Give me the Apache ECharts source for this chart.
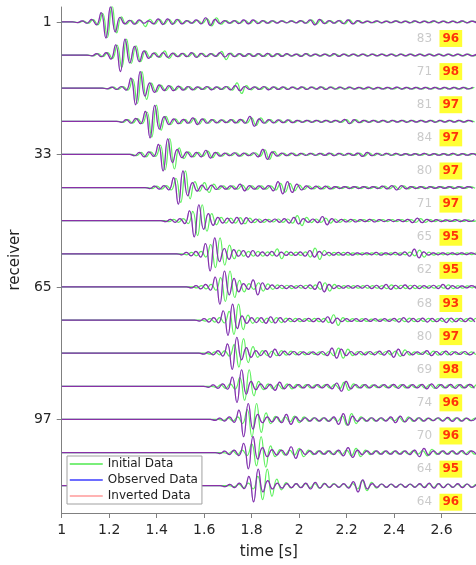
<!DOCTYPE html>
<html>
<head>
<meta charset="utf-8">
<script src="https://cdn.jsdelivr.net/npm/echarts@6/dist/echarts.min.js"></script>
<style>
  html, body { margin: 0; padding: 0; background: #fff; }
  #chart { width: 476px; height: 565px; }
</style>
</head>
<body>
<div id="chart"></div>
<script>
// receivers shown (every 8th) and tick labels
const receivers = [1, 9, 17, 25, 33, 41, 49, 57, 65, 73, 81, 89, 97, 105, 113];
const yTicks = [1, 33, 65, 97];
const xTicks = [1, 1.2, 1.4, 1.6, 1.8, 2, 2.2, 2.4, 2.6];

// scores printed at the right of each trace
const initialScore = [83, 71, 81, 84, 80, 71, 65, 62, 68, 80, 69, 74, 70, 64, 64];
const invertedScore = [96, 98, 97, 97, 97, 97, 95, 95, 93, 97, 98, 96, 96, 95, 96];

// time of first sample of each trace (s), samples every 0.02 s
const obsStart = [1.046, 1.107, 1.171, 1.232, 1.287, 1.351, 1.418, 1.485, 1.526, 1.560, 1.578, 1.598, 1.626, 1.646, 1.668];
const iniStart = [1.052, 1.113, 1.178, 1.239, 1.295, 1.361, 1.432, 1.507, 1.549, 1.585, 1.606, 1.630, 1.661, 1.680, 1.706];
const DT = 0.02;

// observed traces (amplitude, read peak to peak)
const obs1 = [0,-0.4,0.6,-0.8,1.5,-1.8,5.6,-9.7,9.2,-6, 2.8,-1.2,1,-1.4,1.2,-0.8,0.6,-1.2,1.8,-1.6, 1.8,-1.5,1.6,-1.2,0.8,-0.8,1.2,-1.2,2.5,-2.2, 1.5,-1,0.8,-0.8,0.8,-1,1.2,-1.2,1.2,-1, 0.8,-0.8,0.7,-0.7,0.6,-0.6,0.6,-0.6,0.8,-0.8, 1.2,-1.8,1.5,-1,0.8,-0.8,0.8,-1,1.2,-1.2, 0.8,-0.6,0.5,-0.5,0.6,-0.6,0.5,-0.5,0.6,-0.5, 0.5,-0.6,0.6,-0.5,0.5,-0.5,0.6,-0.6,0.5,-0.5, 0.5,-0.5,0.6,-0.6,0.5,-0.5];
const obs9 = [0,-0.5,0.8,-1,1.5,-2.5,6.2,-10,9.6,-4.8, 5.2,-4,2.5,-2,1.2,-1.2,1.5,-1.5,1.2,-1, 1,-1,1.5,-1.5,1,-1,0.8,-0.8,1.5,-1.2, 1,-1,0.8,-0.8,0.8,-0.8,0.8,-0.8,1,-1, 0.8,-0.8,0.8,-0.6,0.6,-0.8,0.8,-0.6,0.6,-0.6, 0.6,-0.6,0.8,-0.8,0.6,-0.6,0.6,-0.6,0.6,-0.6, 0.5,-0.5,0.5,-0.5,0.6,-0.6,0.5,-0.5,0.5,-0.5, 0.5,-0.5,0.5,-0.5,0.5,-0.5,0.5,-0.5,0.5,-0.5, 0.5,-0.5,0.5];
const obs17 = [0,-0.4,0.6,-0.8,1,-1.2,6,-10,10,-4.8, 3.2,-2.5,2,-1.5,1.5,-1.5,1.2,-1.2,1,-1, 0.8,-0.8,1,-1,0.8,-0.8,1,-1,1.5,-1.5, 1,-0.8,0.8,-0.8,1,-1,0.8,-0.8,0.8,-0.8, 0.6,-0.6,0.8,-0.8,0.6,-0.6,0.8,-0.8,0.6,-0.6, 0.6,-0.6,0.6,-0.6,0.5,-0.5,0.6,-0.6,0.5,-0.5, 0.5,-0.5,0.6,-0.6,0.5,-0.5,0.5,-0.5,0.5,-0.5, 0.5,-0.5,0.5,-0.5,0.5,-0.5,0.5,-0.5,0.5];
const obs25 = [0,-0.6,1,-1.2,1.8,-1.5,6,-10,9.6,-4.8, 2.8,-2,1.5,-1.5,1.2,-1.2,2,-2,1.5,-1.2, 1,-1,0.8,-0.8,1,-1,1.2,-1.2,3,-3, 1.5,-1.2,1,-1,0.8,-0.8,0.8,-0.8,0.6,-0.6, 0.6,-0.6,0.6,-0.6,0.6,-0.6,0.6,-0.6,1.2,-1.5, 1,-0.8,0.6,-0.6,0.6,-0.6,0.6,-0.6,0.5,-0.5, 0.6,-0.6,0.5,-0.5,0.5,-0.5,0.6,-0.6,0.5,-0.5, 0.5,-0.5,0.5,-0.5,0.5,-0.5];
const obs33 = [0,-0.8,1.2,-1.5,1.5,-1.2,6,-10,9.4,-5, 3,-2,1.5,-1.5,1.2,-1.5,2.5,-2.2,1.2,-1, 0.8,-0.8,1,-1,0.8,-0.8,1,-1.5,3,-3, 1.5,-1,0.8,-0.8,0.8,-0.8,0.6,-0.6,0.6,-0.6, 0.6,-0.6,0.8,-0.8,0.6,-0.6,0.6,-0.6,0.8,-1.2, 1.2,-0.8,0.6,-0.6,0.6,-0.6,0.6,-0.6,0.5,-0.5, 0.5,-0.5,0.6,-0.6,0.5,-0.5,0.5,-0.5,0.6,-0.6, 0.5,-0.5,0.5,-0.5];
const obs41 = [0,-0.6,0.8,-1,1.2,-1.5,6,-10,10,-5, 3,-2.2,1.5,-1.5,1.5,-1.2,1,-1,1,-1, 2,-2,1.2,-1,1,-1,1.2,-2,3.6,-3.8, 3.6,-3,2,-1.5,1,-0.8,0.8,-0.8,0.8,-0.8, 0.6,-0.6,0.6,-0.6,0.6,-0.6,0.6,-0.6,0.6,-0.6, 0.8,-0.8,1.2,-1.5,1.2,-0.8,0.6,-0.6,0.6,-0.6, 0.5,-0.5,0.5,-0.5,0.6,-0.6,0.5,-0.5,0.5,-0.5];
const obs49 = [0,-0.6,0.8,-1,1.2,-1.8,6,-9.8,9.6,-5.2, 4.2,-2.8,2,-1.5,1.5,-1.5,2,-2,1.8,-1.2, 1,-1,0.8,-0.8,1,-1,1.2,-1.5,2,-2, 1.2,-1,1,-1.2,2.5,-2.5,1.2,-1,0.8,-0.8, 0.8,-0.8,0.6,-0.6,0.8,-0.8,0.6,-0.6,0.6,-0.6, 0.6,-0.6,0.8,-1.2,1.5,-1.2,0.8,-0.6,0.6,-0.6, 0.5,-0.5,0.6,-0.6,0.5,-0.5,0.5];
const obs57 = [0,-0.6,0.8,-1.2,1.5,-2,6.2,-10.4,9.6,-4.8, 3.2,-3.4,2.5,-1.5,2,-2,2,-1.5,1.2,-1.2, 1.5,-1.5,1,-1,1,-1,1.2,-1.5,2,-2, 1.5,-1,0.8,-0.8,0.8,-0.8,0.8,-0.8,0.6,-0.6, 0.6,-0.6,0.8,-0.8,0.6,-0.6,0.8,-0.8,1.2,-1.5, 2.8,-2.5,1.2,-0.8,0.6,-0.6,0.6,-0.6,0.5,-0.5, 0.5,-0.5,0.5,-0.5];
const obs65 = [0,-0.6,0.8,-1.2,1.5,-2,6,-10.4,9.6,-4.8, 5.2,-3,2,-1.5,4.2,-4.8,2.5,-1.5,1.2,-1, 1,-1,0.8,-0.8,1,-1,1.2,-1.5,3,-3, 1.5,-1,0.8,-0.8,0.8,-0.8,0.8,-0.8,1,-1, 1,-1.2,1.5,-1.5,1,-1,1.2,-1.2,1,-1, 0.8,-0.8,1,-1,1.5,-1.2,0.8,-0.8,0.6,-0.6, 0.8,-0.8];
const obs73 = [0,-0.6,0.8,-1.2,1.5,-1.8,5.6,-9.2,9.6,-5.2, 2.5,-2,1.5,-1.5,1.5,-2,2,-1.8,1.5,-1.2, 1,-1,0.8,-0.8,1,-1,1,-1.2,2,-2, 1.2,-1,0.8,-0.8,0.8,-0.8,0.8,-0.8,0.8,-0.8, 0.8,-0.8,1,-1.2,1.5,-1.2,1,-1,1.2,-1.2, 1,-1,1.2,-1.5,1.2,-1,1,-1,1.2,-1.2];
const obs81 = [0,-0.6,0.8,-1,1.5,-1.8,5.6,-9.8,9.6,-4, 3.4,-2.5,1.5,-1.5,1.5,-2.5,2.5,-1.5,1.2,-1, 1,-1,0.8,-0.8,0.8,-1,1,-1.5,3,-3, 2.5,-1.5,1,-1,1,-1,1,-1,1.2,-1.2, 1.5,-2.5,2.5,-1.5,1,-1,0.8,-0.8,1.5,-1.5, 1,-1,1.2,-1,0.8,-0.8,1,-1,0.8];
const obs89 = [0,-0.6,0.8,-1.2,1.5,-1.8,5.6,-9.8,10,-4.8, 3,-2,1.5,-1.5,1.2,-2.5,2.5,-1.5,1.2,-1, 1,-1,1,-1,1,-1,1.2,-1.5,2,-3, 3,-1.5,1,-1,1,-1,0.8,-0.8,1,-1, 1.2,-1.2,1,-1,1,-1,1.2,-1.5,1.5,-1.2, 1,-1,1.2,-1.2,1,-1,1.2,-1.2];
const obs97 = [0,-0.6,0.8,-1,1.5,-1.8,5.6,-10.4,9.6,-5.8, 3,-2,1.5,-1.5,1.5,-2,3,-3,1.5,-1.2, 1,-1,1,-1,1,-1.2,1.5,-3,3.5,-3.5, 2,-1.2,1,-1,1,-1,1,-1,1.5,-2, 2,-1.5,1,-1,1,-1,0.8,-0.8,1,-1, 1.2,-1.2,1,-1,0.8,-0.8,1];
const obs105 = [0,-0.6,0.8,-1.2,1.5,-1.8,5.6,-9.8,9.6,-4, 3,-2.5,1.8,-1.5,1.5,-1.5,3.5,-3.5,2,-1.2, 1,-1,1,-1,1,-1.2,1.5,-2,3,-3, 1.5,-1.2,1,-1,1,-1,1,-1,1,-1, 1,-1.2,1.5,-2.5,2.5,-1.5,1,-1,1,-1, 1,-1,1.2,-1.2,1,-1];
const obs113 = [0,-0.6,0.8,-1.2,1.5,-1.8,5.6,-9.8,10,-3.8, 3,-2,1.5,-1.5,1.2,-1.2,1.2,-1.2,1.5,-2, 2,-1.5,1.2,-1,1,-1,1.2,-1.5,2.5,-3.8, 3.5,-2,1.2,-1,1,-1,1,-1,1,-1, 1,-1,1.2,-1.2,1.5,-1.5,1.2,-1.2,1,-1, 1.2,-1.2,1,-1,1];

// initial-model traces
const ini1 = [0,-0.4,0.5,-0.8,1.4,-1.8,5.2,-9.4,9.8,-6.6, 3,-1.4,1,-1.2,1,-2.8,1.6,-1.4,1.5,-1.4, 1.5,-1.2,1.4,-1,0.8,-0.8,1,-1,1.8,-2.4, 2.5,-1.4,0.8,-0.8,0.8,-0.8,1,-1,1,-0.8, 0.8,-0.8,0.6,-0.6,0.6,-0.6,0.6,-0.6,0.6,-0.8, 1.2,-1.4,1.2,-1,0.8,-0.8,1,-1.2,1.2,-1, 0.8,-0.6,0.5,-0.5,0.5,-0.5,0.5,-0.5,0.6,-0.5, 0.5,-0.5,0.5,-0.5,0.5,-0.5,0.5,-0.5,0.5,-0.5, 0.5,-0.5,0.5,-0.5,0.5,-0.5];
const ini9 = [0,-0.5,0.8,-1,1.4,-2.2,6,-7.5,9.6,-5, 5.6,-4,2.5,-1.5,1.5,-1.5,2.5,-2,1.2,-1, 1,-1,1.2,-1.2,1,-1,0.8,-0.8,2.2,-2.8, 1.2,-1,0.8,-0.8,0.8,-0.8,0.8,-0.8,0.8,-0.8, 0.8,-0.6,0.6,-0.6,0.6,-0.6,0.8,-0.6,0.6,-0.6, 0.6,-0.6,0.6,-0.6,0.6,-0.6,0.6,-0.6,0.5,-0.5, 0.5,-0.5,0.5,-0.5,0.5,-0.5,0.5,-0.5,0.5,-0.5, 0.5,-0.5,0.5,-0.5,0.5,-0.5,0.5,-0.5,0.5,-0.5, 0.5,-0.5,0.5];
const ini17 = [0,-0.4,0.6,-0.8,1,-1.2,5.6,-9.2,10,-6.8, 3,-2.2,1.8,-1.5,1.2,-1.2,1,-1,1,-1, 0.8,-0.8,0.8,-0.8,0.8,-0.8,1,-1.2,3.2,-3.2, 1.5,-1,0.8,-0.8,0.8,-0.8,0.8,-0.8,0.6,-0.6, 0.6,-0.6,0.6,-0.6,0.6,-0.6,0.6,-0.6,0.6,-0.6, 0.5,-0.5,0.5,-0.5,0.5,-0.5,0.5,-0.5,0.5,-0.5, 0.5,-0.5,0.5,-0.5,0.5,-0.5,0.5,-0.5,0.5,-0.5, 0.5,-0.5,0.5,-0.5,0.5,-0.5,0.5,-0.5,0.5];
const ini25 = [0,-0.6,1,-1.2,1.6,-1.5,5.6,-9.6,9.8,-5.4, 3,-2,1.5,-1.5,1.2,-1.2,1.8,-1.8,1.5,-1.2, 1,-1,0.8,-0.8,1,-1,1,-1.2,2,-2.5, 2,-1.2,1,-1,0.8,-0.8,0.8,-0.8,0.6,-0.6, 0.6,-0.6,0.6,-0.6,0.6,-0.6,0.6,-0.6,1,-1.2, 1,-0.8,0.6,-0.6,0.6,-0.6,0.6,-0.6,0.5,-0.5, 0.5,-0.5,0.5,-0.5,0.5,-0.5,0.5,-0.5,0.5,-0.5, 0.5,-0.5,0.5,-0.5,0.5,-0.5];
const ini33 = [0,-0.8,1.2,-1.5,1.5,-1.2,5.6,-9.4,9.6,-8.8, 4,-2.5,1.5,-1.5,1.2,-1.2,2,-2,1.2,-1, 0.8,-0.8,1,-1,0.8,-0.8,1,-1.2,2.8,-3, 1.8,-1,0.8,-0.8,0.8,-0.8,0.6,-0.6,0.6,-0.6, 0.6,-0.6,0.6,-0.6,0.6,-0.6,0.6,-0.6,0.8,-1, 1,-0.8,0.6,-0.6,0.6,-0.6,0.5,-0.5,0.5,-0.5, 0.5,-0.5,0.5,-0.5,0.5,-0.5,0.5,-0.5,0.5,-0.5, 0.5,-0.5,0.5,-0.5];
const ini41 = [0,-0.6,0.8,-1,1.2,-1.5,5.6,-9,10,-6.8, 3.6,-2.2,3,-3,2,-1.2,1,-1,1,-1, 1.5,-1.5,1,-1,1,-1,1,-1.5,2.5,-2.8, 2.5,-2,1.5,-1.2,1,-0.8,0.8,-0.8,0.8,-0.8, 0.6,-0.6,0.6,-0.6,0.6,-0.6,0.6,-0.6,0.6,-0.6, 0.8,-0.8,1,-1.2,1,-0.8,0.6,-0.6,0.6,-0.6, 0.5,-0.5,0.5,-0.5,0.5,-0.5,0.5,-0.5,0.5,-0.5];
const ini49 = [0,-0.6,0.8,-1,1.2,-1.8,5.6,-9,9.6,-6.4, 4.2,-2.5,2,-1.5,1.5,-1.5,1.8,-1.8,1.5,-1.2, 1,-1,0.8,-0.8,1,-1,1,-1.5,3,-3, 2,-1.2,1,-1,1.5,-1.5,1,-1,0.8,-0.8, 0.6,-0.6,0.6,-0.6,0.6,-0.6,0.6,-0.6,0.6,-0.6, 0.6,-0.6,0.6,-1,1.2,-1,0.6,-0.6,0.5,-0.5, 0.5,-0.5,0.5,-0.5,0.5,-0.5,0.5];
const ini57 = [0,-0.6,0.8,-1.2,1.5,-2,5.6,-8.4,9.6,-6.8, 5.2,-3,2.2,-1.5,1.5,-1.5,1.5,-1.5,1.2,-1.2, 3,-3,1.5,-1,1,-1,1.2,-2,3.4,-3.4, 2,-1.2,0.8,-0.8,0.8,-0.8,0.6,-0.6,0.6,-0.6, 0.6,-0.6,0.6,-0.6,0.6,-0.6,0.6,-0.6,1,-1.2, 2.2,-2,1,-0.8,0.6,-0.6,0.5,-0.5,0.5,-0.5, 0.5,-0.5,0.5,-0.5];
const ini65 = [0,-0.6,0.8,-1.2,1.5,-2,5.6,-8.8,9.6,-6.4, 4,-3,2,-1.5,2.5,-2.5,1.8,-1.5,1.2,-1, 1,-1,0.8,-0.8,1,-1,1.2,-1.5,2.5,-2.5, 1.5,-1,0.8,-0.8,0.8,-0.8,0.8,-0.8,0.8,-0.8, 0.8,-1,1.2,-1.2,1,-1,1,-1,0.8,-0.8, 0.8,-0.8,0.8,-0.8,1.2,-1,0.8,-0.8,0.6,-0.6, 0.6,-0.6];
const ini73 = [0,-0.6,0.8,-1.2,1.5,-1.8,5.2,-8.6,9.6,-5.8, 3,-2,1.5,-1.5,1.2,-1.5,1.5,-1.5,1.2,-1, 1,-1,0.8,-0.8,1,-1,1,-1.5,3.2,-3.2, 1.5,-1,0.8,-0.8,0.8,-0.8,0.6,-0.6,0.6,-0.6, 0.6,-0.6,0.8,-1,1.2,-1,0.8,-0.8,1,-1, 0.8,-0.8,1,-1.2,1,-0.8,0.8,-0.8,1,-1];
const ini81 = [0,-0.6,0.8,-1,1.4,-1.8,5.2,-8.4,8.8,-5.8, 4,-2.5,1.5,-1.5,1.2,-1.5,1.5,-1.2,1.2,-1, 1,-1,0.8,-0.8,0.8,-1,1,-1.5,3,-3, 2.5,-1.5,1,-1,0.8,-0.8,0.8,-0.8,1,-1, 1.2,-2,2,-1.2,0.8,-0.8,0.8,-0.8,1.2,-1.2, 1,-1,1,-0.8,0.8,-0.8,0.8,-0.8,0.8];
const ini89 = [0,-0.6,0.8,-1.2,1.5,-1.8,5.2,-8.4,10,-5.8, 3,-2,1.5,-1.5,1.2,-1.5,1.5,-1.5,1.2,-1, 1,-1,0.8,-0.8,1,-1,1.2,-1.5,2.5,-2.5, 1.5,-1,1,-1,0.8,-0.8,0.8,-0.8,0.8,-0.8, 1,-1,0.8,-0.8,1,-1,1,-1.2,1.2,-1, 0.8,-0.8,1,-1,0.8,-0.8,1,-1];
const ini97 = [0,-0.6,0.8,-1,1.5,-2.5,6,-10.5,9.6,-7.8, 4,-2.5,1.8,-1.5,1.5,-1.5,2,-2,1.5,-1.2, 1,-1,1,-1,1,-1.2,2,-3.5,3.5,-2.5, 1.5,-1.2,1,-1,0.8,-0.8,0.8,-0.8,1.2,-1.5, 1.5,-1.2,1,-1,0.8,-0.8,0.8,-0.8,0.8,-0.8, 1,-1,0.8,-0.8,0.8,-0.8,0.8];
const ini105 = [0,-0.6,0.8,-1.2,1.5,-1.8,5.2,-8,9.6,-8.8, 4,-2.5,1.8,-1.5,1.5,-1.5,2.5,-2.5,1.5,-1.2, 1,-1,1,-1,1,-1.2,1.5,-2,2.5,-2.5, 1.5,-1.2,1,-1,0.8,-0.8,0.8,-0.8,0.8,-0.8, 1,-1,1.2,-2,2,-1.2,0.8,-0.8,0.8,-0.8, 0.8,-0.8,1,-1,0.8,-0.8];
const ini113 = [0,-0.6,0.8,-1.2,1.5,-2,5.6,-8.4,10,-6.4, 4,-2.5,1.8,-1.5,1.2,-1.2,1.2,-1.2,1.2,-1.5, 1.5,-1.2,1.2,-1,1,-1,1.2,-2,3,-3, 2,-1.5,1,-1,0.8,-0.8,0.8,-0.8,0.8,-0.8, 0.8,-0.8,1,-1,1.2,-1.2,1,-1,0.8,-0.8, 1,-1,0.8,-0.8,0.8];

const observed = [obs1, obs9, obs17, obs25, obs33, obs41, obs49, obs57, obs65, obs73, obs81, obs89, obs97, obs105, obs113];
const initial = [ini1, ini9, ini17, ini25, ini33, ini41, ini49, ini57, ini65, ini73, ini81, ini89, ini97, ini105, ini113];
// inverted traces sit on top of the observed ones at this scale
const inverted = observed;

const X_MIN = 1, X_MAX = 2.745;
const GAIN = 0.4;          // receivers per amplitude unit
const SCORE_T = 2.528, BOX_T = 2.639;
const FONT = 'DejaVu Sans';

function traceData(vals, start, rec) {
    const pts = [[X_MIN, rec]];
    vals.forEach((v, k) => pts.push([start + k * DT, rec - GAIN * v]));
    return pts;
}

const series = [];
const kinds = [
    { name: 'Initial Data', traces: initial, starts: iniStart, color: '#5ef05e', legendColor: '#4ee84e' },
    { name: 'Observed Data', traces: observed, starts: obsStart, color: '#4a4aff', legendColor: '#3c3cff' },
    { name: 'Inverted Data', traces: inverted, starts: obsStart, color: 'rgba(255,0,0,0.35)', legendColor: '#ff9a9a' }
];
kinds.forEach(kd => {
    kd.traces.forEach((vals, i) => {
        series.push({
            name: kd.name,
            type: 'line',
            data: traceData(vals, kd.starts[i], receivers[i]),
            symbol: 'none',
            smooth: 0.5,
            lineStyle: { width: 1.2, color: kd.color },
            itemStyle: { color: kd.color },
            silent: true
        });
    });
});

series.push({
    type: 'scatter',
    symbolSize: 0,
    data: receivers.map((r, i) => [SCORE_T, r + 4, initialScore[i]]),
    label: {
        show: true, position: 'inside', formatter: p => p.value[2],
        color: '#bdbdbd', fontSize: 12, fontFamily: FONT
    },
    silent: true
});
series.push({
    type: 'scatter',
    symbolSize: 0,
    data: receivers.map((r, i) => [BOX_T, r + 4, invertedScore[i]]),
    label: {
        show: true, position: 'inside', formatter: p => p.value[2],
        color: '#ff0000', fontSize: 12, fontWeight: 'bold', fontFamily: FONT,
        backgroundColor: '#ffff00', padding: [3, 3, 2, 3], lineHeight: 12
    },
    silent: true
});

const axisCol = '#808080';
const chart = echarts.init(document.getElementById('chart'), null, { renderer: 'canvas' });
chart.setOption({
    animation: false,
    backgroundColor: '#fff',
    grid: { left: 57, right: 0, top: 7, bottom: 49 },
    legend: {
        data: kinds.map(kd => ({
            name: kd.name,
            lineStyle: { color: kd.legendColor, width: 1.5 },
            itemStyle: { opacity: 0 }
        })),
        orient: 'vertical',
        left: 67, top: 456,
        backgroundColor: '#fff',
        borderColor: '#a0a0a0', borderWidth: 1,
        padding: [2, 4, 2, 2],
        itemWidth: 33, itemHeight: 12, itemGap: 4,
        textStyle: { fontSize: 12, color: '#222', fontFamily: FONT },
        selectedMode: false
    },
    xAxis: {
        type: 'value', min: X_MIN, max: X_MAX,
        name: 'time [s]', nameLocation: 'middle', nameGap: 32,
        nameTextStyle: { fontSize: 15, color: '#222', fontFamily: FONT },
        axisLine: { onZero: false, lineStyle: { color: axisCol } },
        axisTick: { customValues: xTicks, length: 5, lineStyle: { color: axisCol } },
        axisLabel: { customValues: xTicks, fontSize: 14, color: '#262626', fontFamily: FONT, margin: 10 },
        splitLine: { show: false }
    },
    yAxis: {
        type: 'value', min: -2.6, max: 119.6, inverse: true,
        name: 'receiver', nameLocation: 'middle', nameGap: 36,
        nameTextStyle: { fontSize: 15, color: '#222', fontFamily: FONT },
        axisLine: { show: true, onZero: false, lineStyle: { color: axisCol } },
        axisTick: { show: true, customValues: yTicks, length: 5, lineStyle: { color: axisCol } },
        axisLabel: { customValues: yTicks, fontSize: 14, color: '#262626', fontFamily: FONT, margin: 10 },
        splitLine: { show: false }
    },
    series: series
});
</script>
</body>
</html>
